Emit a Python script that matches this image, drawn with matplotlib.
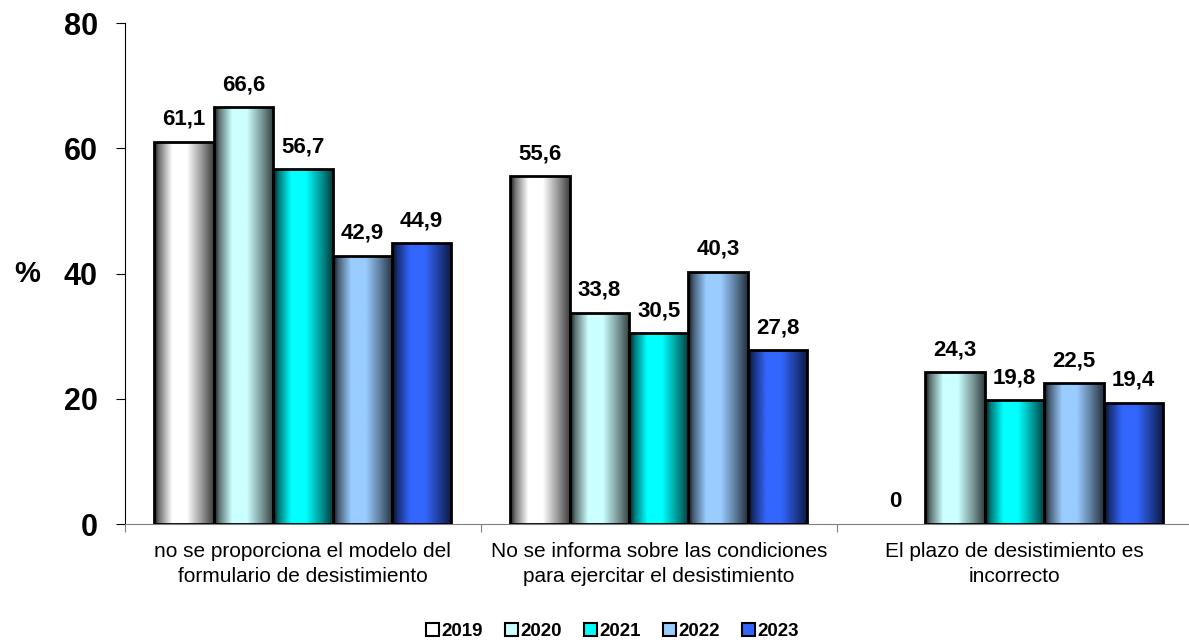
import numpy as np
import matplotlib.pyplot as plt
from matplotlib.patches import Patch

plt.rcParams['font.family'] = ['Liberation Sans', 'DejaVu Sans']

categories = ["no se proporciona el modelo del\nformulario de desistimiento",
              "No se informa sobre las condiciones\npara ejercitar el desistimiento",
              "El plazo de desistimiento es\nincorrecto"]
years = ["2019", "2020", "2021", "2022", "2023"]
v2019 = [61.1, 55.6, 0]
v2020 = [66.6, 33.8, 24.3]
v2021 = [56.7, 30.5, 19.8]
v2022 = [42.9, 40.3, 22.5]
v2023 = [44.9, 27.8, 19.4]
series = [v2019, v2020, v2021, v2022, v2023]
colors = ["#ffffff", "#ccffff", "#00ffff", "#99ccff", "#3366ff"]


def shade(color):
    # horizontal cylinder-like shading: dark edges, light middle
    rgb = np.array(plt.matplotlib.colors.to_rgb(color))
    t = np.linspace(0, 1, 64)
    f = np.interp(t, [0, 0.08, 0.3, 0.55, 0.8, 1], [0.1, 0.45, 1, 1, 0.6, 0.25])
    return (rgb[None, :] * f[:, None])[None, :, :]


fig = plt.figure(figsize=(11.89, 6.44), dpi=100)
ax = fig.add_axes([0.105, 0.186, 0.898, 0.778])

x = np.arange(len(categories))
w = 0.167
for i, (vals, col) in enumerate(zip(series, colors)):
    pos = x - 2 * w + i * w
    lws = [2 if v > 0 else 0 for v in vals]
    bars = ax.bar(pos, vals, w, facecolor='none', edgecolor='black', linewidth=lws, zorder=3)
    for b, v in zip(bars, vals):
        if v > 0:
            im = ax.imshow(shade(col), aspect='auto', zorder=2,
                           extent=[b.get_x(), b.get_x() + b.get_width(), 0, v])
            im.set_clip_path(b)
        ax.text(b.get_x() + b.get_width() / 2, v + 1.9, f"{v:g}".replace('.', ','),
                ha='center', va='bottom', fontsize=16, fontweight='bold')

ax.set_xlim(-0.5, 2.5)
ax.set_ylim(0, 80)
ax.set_yticks([0, 20, 40, 60, 80])
ax.set_yticklabels(['0', '20', '40', '60', '80'], fontsize=22, fontweight='bold')
ax.set_xticks([-0.5, 0.5, 1.5, 2.5])
ax.set_xticklabels([])
ax.set_xticks(x, minor=True)
ax.set_xticklabels(categories, minor=True, fontsize=15, linespacing=1.35)
ax.tick_params(axis='x', which='minor', length=0, pad=13)
ax.tick_params(axis='x', which='major', length=6, color='#808080')
ax.tick_params(axis='y', length=6.5, pad=13)
ax.set_ylabel('%', fontsize=21, fontweight='bold', rotation=0, labelpad=26, va='center')
ax.spines['top'].set_visible(False)
ax.spines['right'].set_visible(False)
ax.spines['bottom'].set_color('#808080')

handles = [Patch(facecolor=c, edgecolor='black', linewidth=1.5) for c in colors]
fig.legend(handles, years, loc='center', bbox_to_anchor=(0.515, 0.02), ncol=5,
           frameon=False, prop={'weight': 'bold', 'size': 13.5},
           handlelength=0.7, handleheight=0.7, handletextpad=0.1, columnspacing=1.2)

fig.savefig('out.png', dpi=100)
